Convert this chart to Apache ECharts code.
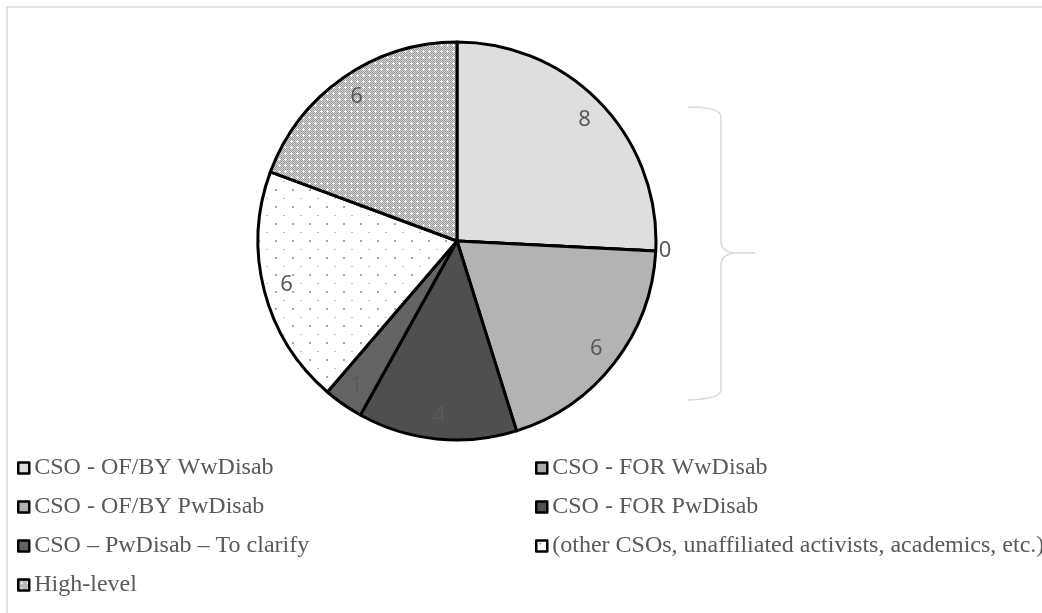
<!DOCTYPE html>
<html>
<head>
<meta charset="utf-8">
<script src="https://cdn.jsdelivr.net/npm/echarts@6/dist/echarts.min.js"></script>
<style>
  html, body { margin: 0; padding: 0; background: #ffffff; }
  #chart { width: 1042px; height: 613px; }
</style>
</head>
<body>
<div id="chart"></div>
<script>
// Stakeholder groups and their counts (clockwise from 12 o'clock)
const categories = [
  'CSO - OF/BY WwDisab',
  'CSO - FOR WwDisab',
  'CSO - OF/BY PwDisab',
  'CSO - FOR PwDisab',
  'CSO – PwDisab – To clarify',
  '(other CSOs, unaffiliated activists, academics, etc.)',
  'High-level'
];
const counts = [8, 0, 6, 4, 1, 6, 6];

// Legend columns (by category index)
const legendLeftColumn = [0, 2, 4, 6];
const legendRightColumn = [1, 3, 5];

// --- fill patterns -------------------------------------------------------
function makeDotPattern() {
  const c = document.createElement('canvas');
  c.width = 17; c.height = 17;
  const g = c.getContext('2d');
  g.fillStyle = '#ffffff';
  g.fillRect(0, 0, 17, 17);
  g.fillStyle = '#a6a6a6';
  g.fillRect(3, 2, 2, 2);
  g.fillStyle = '#bdbdbd';
  g.fillRect(11, 11, 2, 1);
  return c;
}

function makeHatchPattern() {
  const c = document.createElement('canvas');
  c.width = 6; c.height = 6;
  const g = c.getContext('2d');
  for (let y = 0; y < 6; y++) {
    for (let x = 0; x < 6; x++) {
      g.fillStyle = ((x + y) % 2 === 0) ? '#9a9a9a' : '#d4d4d4';
      g.fillRect(x, y, 1, 1);
    }
  }
  g.fillStyle = '#ffffff';
  g.fillRect(2, 3, 3, 1);
  g.fillRect(3, 2, 1, 3);
  return c;
}

const fills = [
  '#dedede',
  '#a9a9a9',
  '#b3b3b3',
  '#4f4f4f',
  '#646464',
  { image: makeDotPattern(), repeat: 'repeat' },
  { image: makeHatchPattern(), repeat: 'repeat' }
];

const pieCenter = [457, 241];
const pieRadius = 199;

const sliceData = categories.map((name, i) => ({
  name: name,
  value: counts[i],
  itemStyle: { color: fills[i] }
}));

// Value labels sit on a transparent ring near the rim
const labelData = categories.map((name, i) => {
  const item = { name: name, value: counts[i] };
  if (counts[i] === 0) {
    item.label = { position: 'outside', distanceToLabelLine: 3 };
    item.labelLine = { show: false, length: 0, length2: 0 };
  }
  return item;
});

const legendText = {
  fontFamily: 'Liberation Serif',
  fontSize: 24,
  lineHeight: 24,
  color: '#595959'
};

function legendFor(indices, left) {
  return {
    data: indices.map(i => categories[i]),
    orient: 'vertical',
    left: left,
    top: 456,
    padding: 0,
    itemWidth: 11,
    itemHeight: 11,
    itemGap: 15,
    icon: 'rect',
    selectedMode: false,
    itemStyle: { borderColor: '#000000', borderWidth: 2.5 },
    textStyle: legendText
  };
}

// Curly brace to the right of the pie
const braceStyle = { fill: 'none', stroke: '#d9d9d9', lineWidth: 1.5 };
function braceLine(x1, y1, x2, y2) {
  return { type: 'line', silent: true, shape: { x1, y1, x2, y2 }, style: braceStyle };
}
function braceCurve(x1, y1, cpx1, cpy1, x2, y2) {
  return { type: 'bezierCurve', silent: true, shape: { x1, y1, cpx1, cpy1, x2, y2 }, style: braceStyle };
}

const chart = echarts.init(document.getElementById('chart'), null, { renderer: 'canvas' });

chart.setOption({
  animation: false,
  backgroundColor: '#ffffff',
  legend: [
    legendFor(legendLeftColumn, 17),
    legendFor(legendRightColumn, 535)
  ],
  graphic: [
    {
      type: 'rect',
      silent: true,
      shape: { x: 7, y: 7, width: 1200, height: 800 },
      style: { fill: 'none', stroke: '#d9d9d9', lineWidth: 1.5 }
    },
    braceCurve(688, 107, 721, 107, 721, 117),
    braceLine(721, 117, 721, 241),
    braceCurve(721, 241, 721, 251, 734, 253),
    braceLine(734, 253, 755, 253),
    braceCurve(734, 253, 721, 255, 721, 265),
    braceLine(721, 265, 721, 390),
    braceCurve(721, 390, 721, 399, 688, 400)
  ],
  series: [
    {
      type: 'pie',
      center: pieCenter,
      radius: pieRadius,
      startAngle: 90,
      clockwise: true,
      avoidLabelOverlap: false,
      silent: true,
      label: { show: false },
      labelLine: { show: false },
      itemStyle: { borderColor: '#000000', borderWidth: 3 },
      emphasis: { disabled: true },
      data: sliceData
    },
    {
      type: 'pie',
      center: pieCenter,
      radius: [147, pieRadius],
      startAngle: 90,
      clockwise: true,
      avoidLabelOverlap: false,
      silent: true,
      itemStyle: { color: 'rgba(0,0,0,0)', borderWidth: 0 },
      label: {
        show: true,
        position: 'inside',
        formatter: '{c}',
        fontFamily: 'Noto Sans',
        fontSize: 22,
        color: '#595959'
      },
      labelLine: { show: false },
      emphasis: { disabled: true },
      data: labelData
    }
  ]
});
</script>
</body>
</html>
